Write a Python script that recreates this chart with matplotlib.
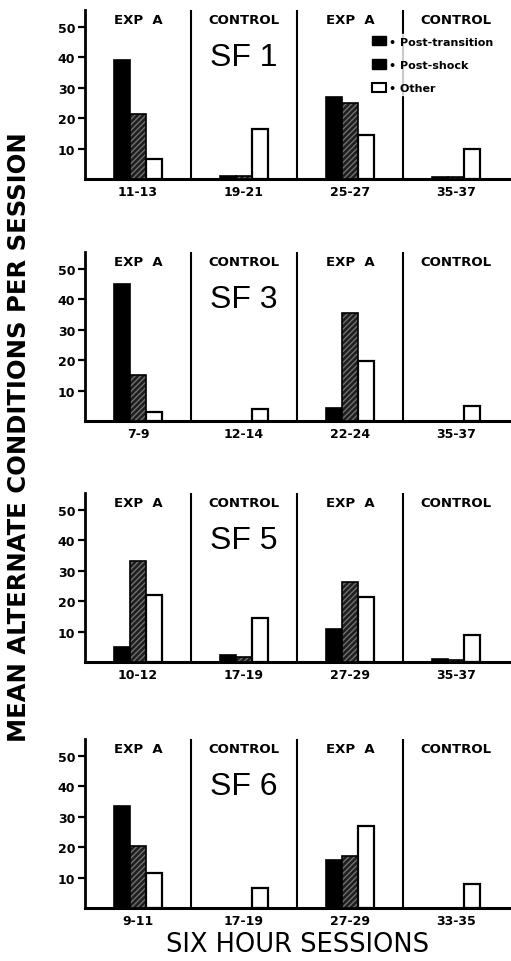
import numpy as np
import matplotlib
matplotlib.use('Agg')
import matplotlib.pyplot as plt
from matplotlib.patches import Patch

# session ranges per subject (one per group: EXP A, CONTROL, EXP A, CONTROL)
subjects = ['SF 1', 'SF 3', 'SF 5', 'SF 6']
groups = ['EXP  A', 'CONTROL', 'EXP  A', 'CONTROL']
sessions = {
    'SF 1': ['11-13', '19-21', '25-27', '35-37'],
    'SF 3': ['7-9', '12-14', '22-24', '35-37'],
    'SF 5': ['10-12', '17-19', '27-29', '35-37'],
    'SF 6': ['9-11', '17-19', '27-29', '33-35'],
}

# mean alternate conditions per session
post_transition = {
    'SF 1': [39, 1, 27, 0.5],
    'SF 3': [45, 0, 4.3, 0],
    'SF 5': [5, 2.4, 11, 1],
    'SF 6': [33.5, 0, 15.8, 0],
}
post_shock = {
    'SF 1': [21.5, 1, 25, 0.5],
    'SF 3': [15, 0, 35.5, 0],
    'SF 5': [33.3, 1.5, 26.3, 0.8],
    'SF 6': [20.4, 0, 17.2, 0],
}
other = {
    'SF 1': [6.5, 16.5, 14.5, 10],
    'SF 3': [3, 4, 19.7, 5],
    'SF 5': [22, 14.5, 21.3, 9],
    'SF 6': [11.5, 6.5, 27, 8],
}

W, H = 511, 962
fig = plt.figure(figsize=(W / 100, H / 100), dpi=100)
fig.patch.set_facecolor('white')

baselines = [180, 422, 663, 909]   # pixel rows of the zero line
px_per_unit = 3.04
ymax = 55.5
ax_h = ymax * px_per_unit
left_px = 85

bw = 0.151
centers = np.arange(4) + 0.5

for k, sf in enumerate(subjects):
    bottom = 1 - baselines[k] / H
    ax = fig.add_axes([left_px / W, bottom, (W - left_px) / W, ax_h / H])
    ax.set_xlim(0, 4.02)
    ax.set_ylim(0, ymax)

    ax.bar(centers - bw, post_transition[sf], bw, color='black', edgecolor='black', lw=1.2, zorder=3)
    ax.bar(centers, post_shock[sf], bw, color='#1e1e1e', edgecolor='#707070', hatch='//////', lw=0, zorder=3)
    ax.bar(centers, post_shock[sf], bw, color='none', edgecolor='black', lw=1.2, zorder=4)
    ax.bar(centers + bw, other[sf], bw, color='white', edgecolor='black', lw=1.6, zorder=3)

    for xd in [1, 2, 3]:
        ax.axvline(xd, color='black', lw=1.5, zorder=2)

    for c, g in zip(centers, groups):
        ax.text(c, 52.5, g, ha='center', va='center', fontsize=9.5,
                fontweight='bold', family='DejaVu Sans')

    ax.text(1.5, 40, sf, ha='center', va='center', fontsize=23,
            family='Liberation Sans')

    for s in ['top', 'right']:
        ax.spines[s].set_visible(False)
    ax.spines['left'].set_linewidth(2)
    ax.spines['bottom'].set_linewidth(2.2)

    ax.set_yticks([10, 20, 30, 40, 50])
    ax.set_yticklabels(['10', '20', '30', '40', '50'], fontsize=9, fontweight='bold')
    ax.tick_params(axis='y', length=5, width=1.6, pad=2, direction='out')
    ax.set_xticks(centers)
    ax.set_xticklabels(sessions[sf], fontsize=9, fontweight='bold')
    ax.tick_params(axis='x', length=0, pad=4)

    if k == 0:
        handles = [Patch(facecolor='black', edgecolor='black'),
                   Patch(facecolor='black', edgecolor='black'),
                   Patch(facecolor='white', edgecolor='black', lw=1.5)]
        labels = ['\u2022 Post-transition', '\u2022 Post-shock', '\u2022 Other']
        leg = ax.legend(handles, labels, loc='upper left',
                        bbox_to_anchor=((370 - left_px) / (W - left_px), 0.86),
                        frameon=True, fontsize=8, handlelength=1.2, handleheight=0.9,
                        handletextpad=0.35, labelspacing=1.15, borderpad=0.2,
                        borderaxespad=0)
        leg.get_frame().set_facecolor('white')
        leg.get_frame().set_edgecolor('white')
        leg.set_zorder(5)
        for t in leg.get_texts():
            t.set_fontweight('bold')

fig.text(298 / W, 1 - 945 / H, 'SIX HOUR SESSIONS', ha='center', va='center',
         fontsize=18.5, family='DejaVu Sans')
fig.text(19 / W, 1 - 437 / H, 'MEAN ALTERNATE CONDITIONS PER SESSION', ha='center',
         va='center', rotation=90, fontsize=17.5, fontweight='bold', family='DejaVu Sans')

fig.savefig('out.png', dpi=100)
